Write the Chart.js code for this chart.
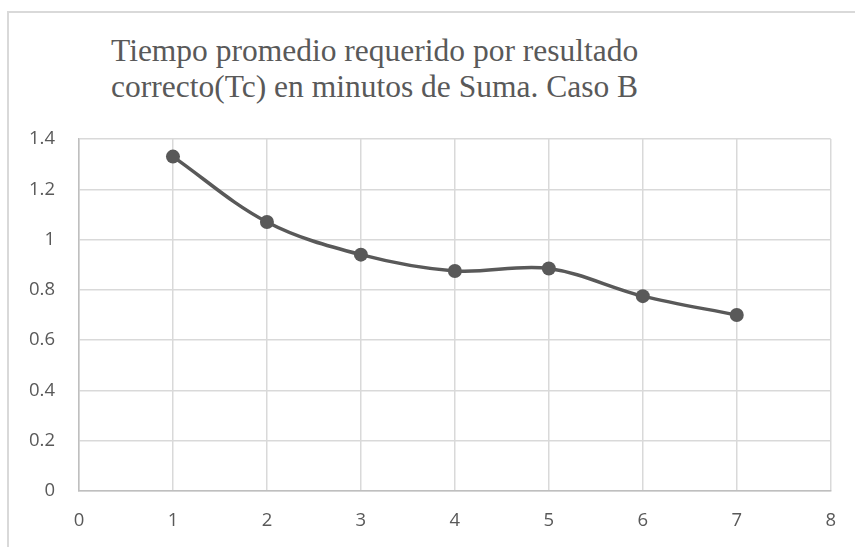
<!DOCTYPE html>
<html>
<head>
<meta charset="utf-8">
<script src="https://cdn.jsdelivr.net/npm/chart.js@4/dist/chart.umd.min.js"></script>
<style>
    html, body { margin: 0; padding: 0; background: #fff; }
    #wrap { position: relative; width: 855px; height: 547px; overflow: hidden; }
    #frame { position: absolute; left: 7px; top: 11px; width: 900px; height: 600px; border: 2px solid #d9d9d9; box-sizing: border-box; }
    #title { position: absolute; left: 111px; top: 33px; font-family: "Liberation Serif", "DejaVu Serif"; font-size: 31.5px; line-height: 35.5px; color: #595959; white-space: nowrap; }
    canvas { position: absolute; left: 0; top: 0; }
</style>
</head>
<body>
<div id="wrap">
    <div id="frame"></div>
    <div id="title">Tiempo promedio requerido por resultado<br>correcto(Tc) en minutos de Suma. Caso B</div>
    <canvas id="chart" width="855" height="547"></canvas>
</div>
<script>
// values
const xValues = [1, 2, 3, 4, 5, 6, 7];
const tcValues = [1.33, 1.07, 0.94, 0.875, 0.885, 0.775, 0.70];

const lineColor = '#595959';
const gridColor = '#d9d9d9';
const tickFont = { family: '"Open Sans", sans-serif', size: 18.5 };

document.addEventListener('DOMContentLoaded', () => {
    const ctx = document.getElementById('chart').getContext('2d');
    new Chart(ctx, {
        type: 'line',
        data: {
            datasets: [{
                data: xValues.map((x, i) => ({ x: x, y: tcValues[i] })),
                borderColor: lineColor,
                backgroundColor: lineColor,
                borderWidth: 3.5,
                pointRadius: 7,
                pointBackgroundColor: lineColor,
                pointBorderWidth: 0,
                tension: 0.35,
                fill: false
            }]
        },
        options: {
            responsive: false,
            animation: false,
            layout: { padding: { left: 0, top: 139, right: 23, bottom: 0 } },
            plugins: {
                legend: { display: false },
                tooltip: { enabled: false }
            },
            scales: {
                x: {
                    type: 'linear',
                    min: 0,
                    max: 8,
                    ticks: { stepSize: 1, color: lineColor, font: tickFont, padding: 19 },
                    grid: { color: gridColor, lineWidth: 1.5, drawTicks: false },
                    border: { color: '#bfbfbf', width: 1.5 },
                    afterFit: scale => { scale.height = 56; }
                },
                y: {
                    min: 0,
                    max: 1.4,
                    ticks: { stepSize: 0.2, color: lineColor, font: tickFont, padding: 24,
                        callback: v => Math.round(v * 10) / 10 },
                    grid: { color: gridColor, lineWidth: 1.5, drawTicks: false },
                    border: { color: '#bfbfbf', width: 1.5 },
                    afterFit: scale => { scale.width = 79; }
                }
            }
        }
    });
});
</script>
</body>
</html>
